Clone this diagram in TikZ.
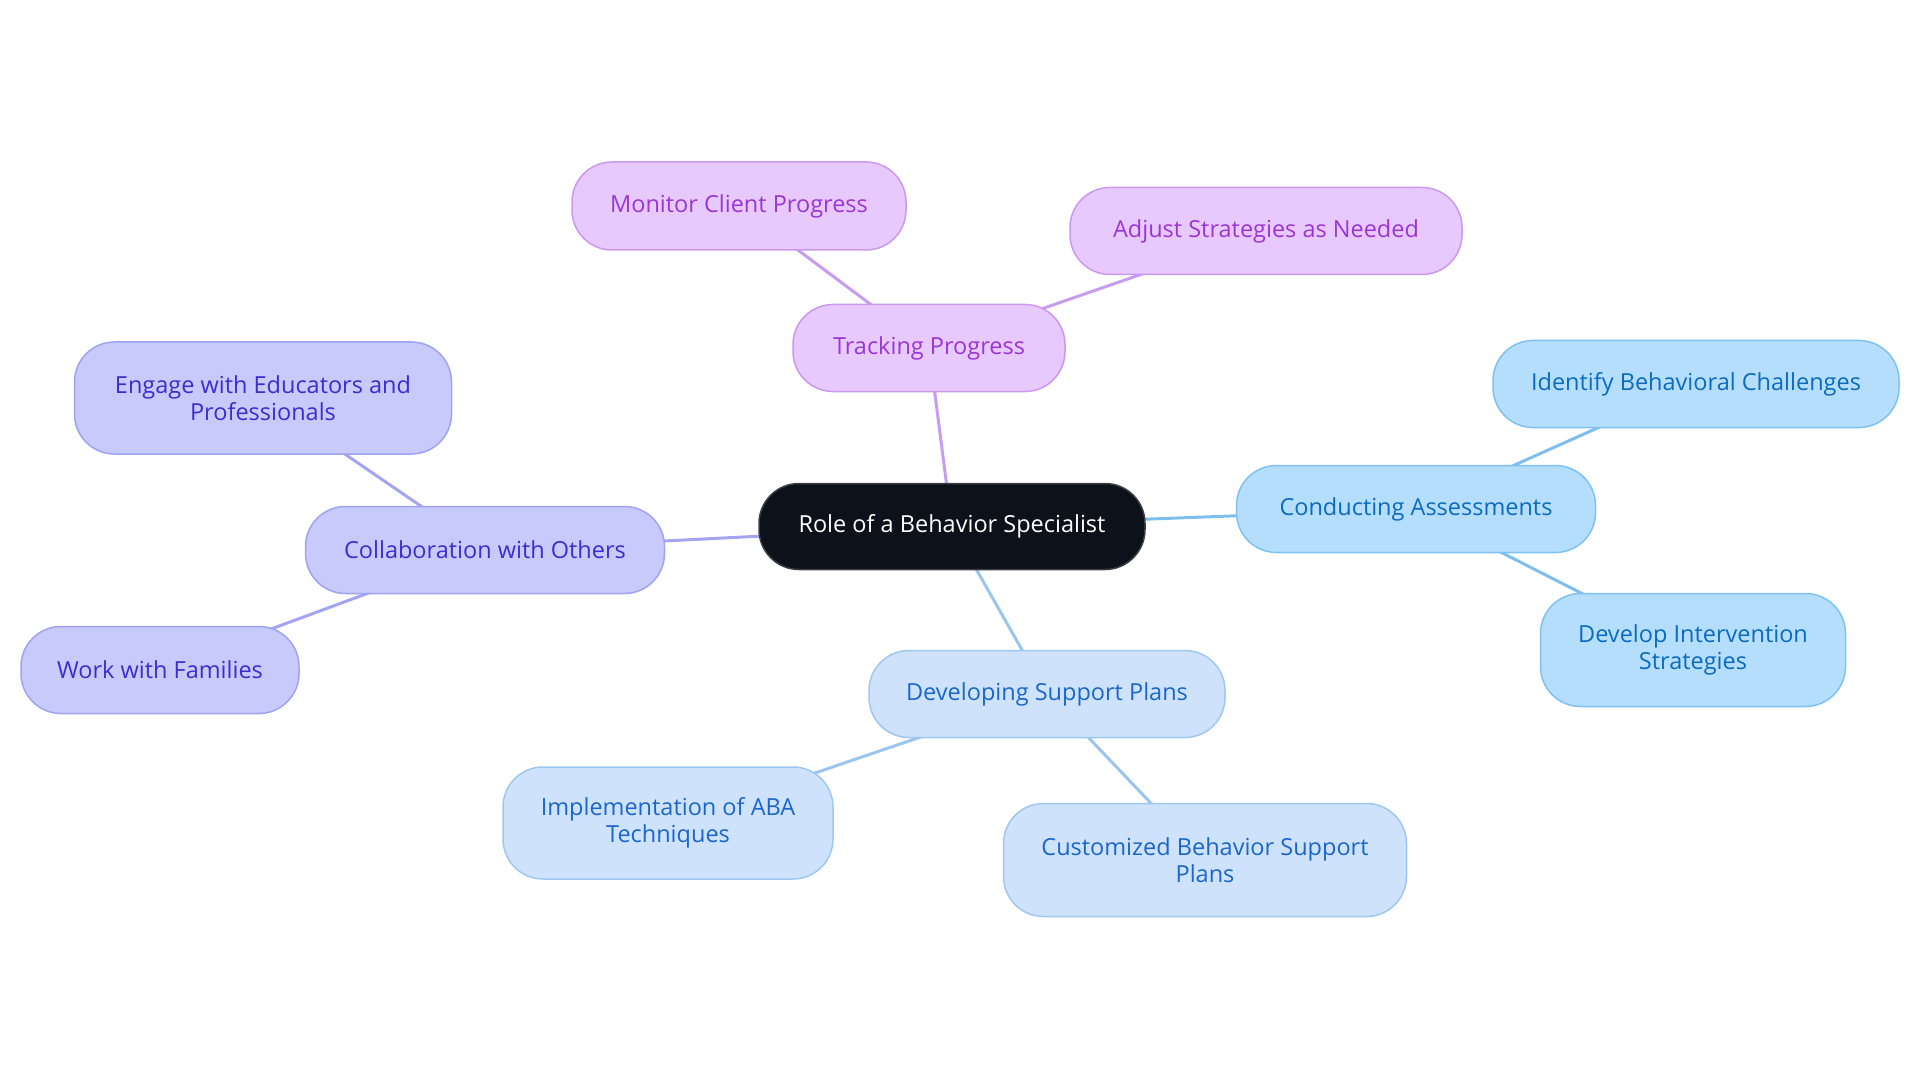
\documentclass[tikz,border=0pt]{standalone}
\usepackage{fontspec}
\setmainfont{Open Sans}
\usetikzlibrary{backgrounds}
\definecolor{rootfill}{HTML}{0D121A}
\definecolor{rootdraw}{HTML}{3A3F46}
\definecolor{pfill}{HTML}{E8C9FD}
\definecolor{pdraw}{HTML}{CB98F1}
\definecolor{ptext}{HTML}{9A36D6}
\definecolor{pline}{HTML}{C79DF2}
\definecolor{cfill}{HTML}{B5DEFC}
\definecolor{cdraw}{HTML}{7FC1F1}
\definecolor{ctext}{HTML}{0B6BC0}
\definecolor{cline}{HTML}{7CBFEE}
\definecolor{dfill}{HTML}{CEE3FB}
\definecolor{ddraw}{HTML}{9EC7F1}
\definecolor{dtext}{HTML}{1A66CC}
\definecolor{dline}{HTML}{9CC5EE}
\definecolor{ifill}{HTML}{C8CAFC}
\definecolor{idraw}{HTML}{A0A2F2}
\definecolor{itext}{HTML}{3B2ED0}
\definecolor{iline}{HTML}{A3A4F2}
\tikzset{
  box/.style={rectangle, rounded corners=40pt, line width=1.5pt, align=center,
    font=\fontsize{23.5}{26.5}\selectfont, inner sep=0pt},
  rootbox/.style={box, fill=rootfill, draw=rootdraw, text=white},
  pbox/.style={box, fill=pfill, draw=pdraw, text=ptext},
  cbox/.style={box, fill=cfill, draw=cdraw, text=ctext},
  dbox/.style={box, fill=dfill, draw=ddraw, text=dtext},
  ibox/.style={box, fill=ifill, draw=idraw, text=itext},
  edge/.style={line width=3pt}
}
\begin{document}
\begin{tikzpicture}[x=1pt,y=-1pt]
\useasboundingbox (0,0) rectangle (1920,1083);
\node[rootbox, minimum width=386pt, minimum height=86pt] (root) at (952,526.5) {Role of a Behavior Specialist};
\node[pbox, minimum width=272pt, minimum height=87pt] (track) at (929,348) {Tracking Progress};
\node[pbox, minimum width=334pt, minimum height=88pt] (monitor) at (739,206) {Monitor Client Progress};
\node[pbox, minimum width=392pt, minimum height=87pt] (adjust) at (1266,231) {Adjust Strategies as Needed};
\node[cbox, minimum width=359pt, minimum height=87pt] (assess) at (1416,509) {Conducting Assessments};
\node[cbox, minimum width=406pt, minimum height=87pt] (identify) at (1696,384) {Identify Behavioral Challenges};
\node[cbox, minimum width=305pt, minimum height=113pt] (develop) at (1693,650) {Develop Intervention\\Strategies};
\node[dbox, minimum width=356pt, minimum height=87pt] (plans) at (1047,694) {Developing Support Plans};
\node[dbox, minimum width=330pt, minimum height=112pt] (aba) at (668,823) {Implementation of ABA\\Techniques};
\node[dbox, minimum width=403pt, minimum height=113pt] (custom) at (1205,860) {Customized Behavior Support\\Plans};
\node[ibox, minimum width=359pt, minimum height=87pt] (collab) at (485,550) {Collaboration with Others};
\node[ibox, minimum width=377pt, minimum height=112pt] (engage) at (263,398) {Engage with Educators and\\Professionals};
\node[ibox, minimum width=278pt, minimum height=87pt] (families) at (160,670) {Work with Families};
\begin{scope}[on background layer]
\draw[edge, pline] (root.center) -- (track.center);
\draw[edge, pline] (track.center) -- (monitor.center);
\draw[edge, pline] (track.center) -- (adjust.center);
\draw[edge, cline] (root.center) -- (assess.center);
\draw[edge, cline] (assess.center) -- (identify.center);
\draw[edge, cline] (assess.center) -- (develop.center);
\draw[edge, dline] (root.center) -- (plans.center);
\draw[edge, dline] (plans.center) -- (aba.center);
\draw[edge, dline] (plans.center) -- (custom.center);
\draw[edge, iline] (root.center) -- (collab.center);
\draw[edge, iline] (collab.center) -- (engage.center);
\draw[edge, iline] (collab.center) -- (families.center);
\end{scope}
\end{tikzpicture}
\end{document}
